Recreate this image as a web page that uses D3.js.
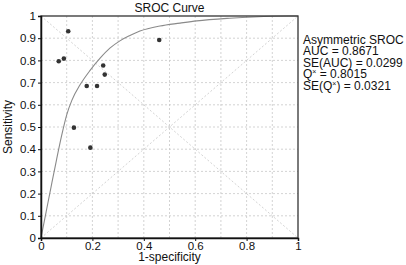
<!DOCTYPE html>
<html>
<head>
<meta charset="utf-8">
<script src="https://cdn.jsdelivr.net/npm/d3@7"></script>
<style>
	body { margin: 0; background: #fff; }
	text { font-family: "Liberation Sans", Arial, sans-serif; fill: #111; }
</style>
</head>
<body>
<div id="chart"></div>
<script>
	// study points (1-specificity, sensitivity)
	var studyFpr = [0.106, 0.069, 0.089, 0.242, 0.248, 0.178, 0.218, 0.128, 0.192, 0.460];
	var studySens = [0.931, 0.796, 0.808, 0.777, 0.736, 0.685, 0.685, 0.497, 0.407, 0.892];

	// SROC curve
	var curveFpr = [0, 0.02, 0.04, 0.06, 0.08, 0.1, 0.12, 0.152, 0.191, 0.23, 0.268, 0.307, 0.346, 0.385, 0.463, 0.541, 0.606, 0.735, 0.903, 1];
	var curveSens = [0, 0.118, 0.235, 0.35, 0.46, 0.555, 0.62, 0.69, 0.755, 0.81, 0.855, 0.888, 0.912, 0.932, 0.955, 0.968, 0.978, 0.99, 0.999, 1];

	var yTicks = [0, 0.1, 0.2, 0.3, 0.4, 0.5, 0.6, 0.7, 0.8, 0.9, 1];
	var xTicks = [0, 0.2, 0.4, 0.6, 0.8, 1];
	var gridTicks = [0.1, 0.2, 0.3, 0.4, 0.5, 0.6, 0.7, 0.8, 0.9];

	var legendLines = ['Asymmetric SROC', 'AUC = 0.8671', 'SE(AUC) = 0.0299', 'Q* = 0.8015', 'SE(Q*) = 0.0321'];

	var margin = {top: 16, right: 108, bottom: 27, left: 41},
		width = 406 - margin.left - margin.right,
		height = 265 - margin.top - margin.bottom;

	var svg = d3.select('#chart')
		.append('svg')
		.attr('width', 406)
		.attr('height', 265)
		.append('g')
		.attr('transform', 'translate(' + margin.left + ',' + margin.top + ')');

	var x = d3.scaleLinear().domain([0, 1]).range([0, width]);
	var y = d3.scaleLinear().domain([0, 1]).range([height, 0]);

	function fmt(d) {
		return d === 0 || d === 1 ? d3.format('d')(d) : d3.format('.1f')(d);
	}

	// grid
	svg.append('g').selectAll('line')
		.data(gridTicks).enter().append('line')
		.attr('x1', function (d) { return x(d); }).attr('x2', function (d) { return x(d); })
		.attr('y1', 0).attr('y2', height)
		.attr('stroke', '#c8c8c8').attr('stroke-width', 0.8).attr('stroke-dasharray', '2,2');
	svg.append('g').selectAll('line')
		.data(gridTicks).enter().append('line')
		.attr('y1', function (d) { return y(d); }).attr('y2', function (d) { return y(d); })
		.attr('x1', 0).attr('x2', width)
		.attr('stroke', '#c8c8c8').attr('stroke-width', 0.8).attr('stroke-dasharray', '2,2');

	// diagonals
	svg.append('line')
		.attr('x1', x(0)).attr('y1', y(0)).attr('x2', x(1)).attr('y2', y(1))
		.attr('stroke', '#c8c8c8').attr('stroke-width', 0.8).attr('stroke-dasharray', '2,2');
	svg.append('line')
		.attr('x1', x(0)).attr('y1', y(1)).attr('x2', x(1)).attr('y2', y(0))
		.attr('stroke', '#c8c8c8').attr('stroke-width', 0.8).attr('stroke-dasharray', '2,2');

	// curve
	var curveData = curveFpr.map(function (d, i) { return {x: d, y: curveSens[i]}; });
	svg.append('path')
		.datum(curveData)
		.attr('fill', 'none')
		.attr('stroke', '#8a8a8a')
		.attr('stroke-width', 1.1)
		.attr('d', d3.line()
			.curve(d3.curveMonotoneX)
			.x(function (d) { return x(d.x); })
			.y(function (d) { return y(d.y); }));

	// points
	svg.append('g').selectAll('circle')
		.data(studyFpr).enter().append('circle')
		.attr('cx', function (d) { return x(d); })
		.attr('cy', function (d, i) { return y(studySens[i]); })
		.attr('r', 2.3)
		.attr('fill', '#333');

	// frame
	svg.append('rect')
		.attr('width', width).attr('height', height)
		.attr('fill', 'none').attr('stroke', '#333').attr('stroke-width', 1.3);

	// axes
	var yAxis = svg.append('g')
		.call(d3.axisLeft(y).tickValues(yTicks).tickSize(3).tickPadding(2).tickFormat(fmt));
	var xAxis = svg.append('g')
		.attr('transform', 'translate(0,' + height + ')')
		.call(d3.axisBottom(x).tickValues(xTicks).tickSize(3).tickPadding(0.8).tickFormat(fmt));
	[yAxis, xAxis].forEach(function (a) {
		a.select('.domain').attr('stroke', '#111').attr('stroke-width', 1.5);
		a.selectAll('.tick line').attr('stroke', '#111');
		a.selectAll('text').attr('font-size', 11.5).attr('font-family', '"Liberation Sans", Arial, sans-serif').attr('fill', '#111');
	});

	// title and labels
	svg.append('text')
		.attr('x', width / 2).attr('y', -4)
		.attr('text-anchor', 'middle')
		.attr('font-size', 12)
		.text('SROC Curve');
	svg.append('text')
		.attr('x', width / 2).attr('y', height + 23.3)
		.attr('text-anchor', 'middle')
		.attr('font-size', 12)
		.text('1-specificity');
	svg.append('text')
		.attr('transform', 'translate(-29,' + (height / 2) + ') rotate(-90)')
		.attr('text-anchor', 'middle')
		.attr('font-size', 12)
		.text('Sensitivity');

	// stats legend
	var legend = svg.append('g')
		.attr('transform', 'translate(' + (width + 5) + ',27.5)');
	legendLines.forEach(function (line, i) {
		var t = legend.append('text')
			.attr('x', 0).attr('y', i * 11.6)
			.attr('font-size', 12);
		var parts = line.split('*');
		if (parts.length === 1) {
			t.text(line);
			return;
		}
		parts.forEach(function (p, j) {
			if (p) t.append('tspan').attr('dy', j > 0 ? 4 : 0).text(p);
			if (j < parts.length - 1) {
				t.append('tspan').attr('dy', -4).attr('font-size', 7).text('\u00d7');
			}
		});
	});
</script>
</body>
</html>
